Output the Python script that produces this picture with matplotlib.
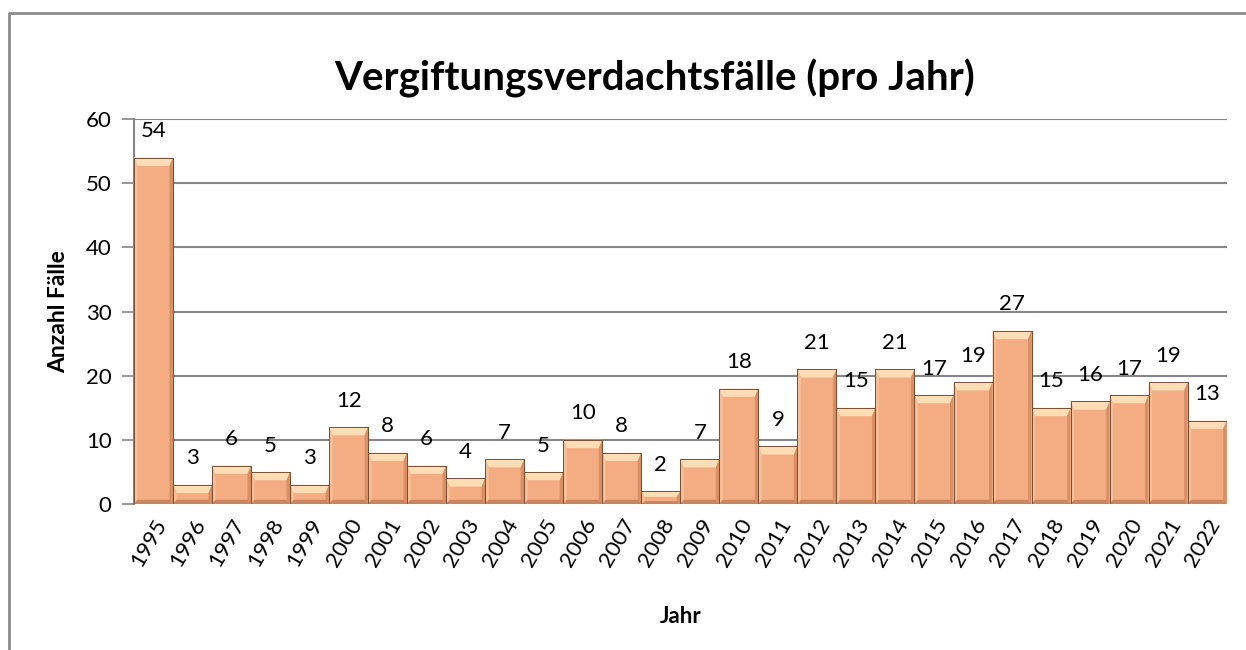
import numpy as np
import matplotlib.pyplot as plt
from matplotlib.patches import Polygon
from matplotlib.lines import Line2D

plt.rcParams['font.family'] = ['Lato', 'DejaVu Sans']

# Daten
jahre = [str(j) for j in range(1995, 2023)]
faelle = [54, 3, 6, 5, 3, 12, 8, 6, 4, 7, 5, 10, 8, 2, 7, 18, 9, 21, 15, 21, 17, 19, 27, 15, 16, 17, 19, 13]

fig = plt.figure(figsize=(12.46, 6.5), dpi=100)
ax = fig.add_axes([0.1075, 0.2246, 0.877, 0.5923])

# Rahmen um das Diagramm (oben und links)
fig.add_artist(Line2D([9 / 1246, 9 / 1246, 1.0], [0.0, 1 - 13 / 650, 1 - 13 / 650],
                      transform=fig.transFigure, color='#8c8c8c', linewidth=2))

x = np.arange(len(jahre))
bars = ax.bar(x, faelle, width=1.0, color='#F4AC82', edgecolor='#7a4e34', linewidth=0.7, zorder=3)

# Bevel-Effekt: helle Oberkante, heller linker / dunkler rechter Rand
for b, v in zip(bars, faelle):
    x0, w = b.get_x(), b.get_width()
    t = min(1.3, v * 0.45)
    s = 0.09
    ax.add_patch(Polygon([(x0, v), (x0 + w, v), (x0 + w - s, v - t), (x0 + s, v - t)],
                         closed=True, facecolor='#FCDDB5', edgecolor='none', zorder=4))
    ax.add_patch(Polygon([(x0, v), (x0 + s, v - t), (x0 + s, t * 0.5), (x0, 0)],
                         closed=True, facecolor='#F8BE96', edgecolor='none', zorder=4))
    ax.add_patch(Polygon([(x0 + w, v), (x0 + w - s, v - t), (x0 + w - s, t * 0.5), (x0 + w, 0)],
                         closed=True, facecolor='#D98F66', edgecolor='none', zorder=4))
    ax.add_patch(Polygon([(x0, 0), (x0 + s, t * 0.5), (x0 + w - s, t * 0.5), (x0 + w, 0)],
                         closed=True, facecolor='#C98560', edgecolor='none', zorder=4))
    ax.add_patch(Polygon([(x0, 0), (x0, v), (x0 + w, v), (x0 + w, 0)],
                         closed=True, facecolor='none', edgecolor='#7a4e34', linewidth=0.7, zorder=5))

for xi, v in zip(x, faelle):
    ax.annotate(str(v), (xi, v), xytext=(0, 19), textcoords='offset points',
                ha='center', va='center', fontsize=16)

ax.set_xlim(-0.5, len(jahre) - 0.5)
ax.set_ylim(0, 60)
ax.set_yticks(range(0, 61, 10))
ax.set_xticks(x)
ax.set_xticklabels(jahre, rotation=60, ha='right', rotation_mode='anchor', fontsize=16)
ax.tick_params(axis='y', labelsize=16, length=9, color='#868686', width=1.2, pad=7)
ax.tick_params(axis='x', length=0, pad=8)
ax.grid(axis='y', color='#868686', linewidth=1.5, zorder=0)
for s in ['top', 'right', 'bottom']:
    ax.spines[s].set_visible(False)
ax.spines['left'].set_color('#868686')
ax.spines['left'].set_linewidth(1.5)

fig.text(0.525, 0.88, 'Vergiftungsverdachtsfälle (pro Jahr)', fontsize=29, fontweight='bold',
         ha='center', va='center')
ax.set_ylabel('Anzahl Fälle', fontsize=16.5, fontweight='bold', labelpad=12)
ax.set_xlabel('Jahr', fontsize=16, fontweight='bold', labelpad=26)

plt.savefig('out.png', dpi=100)
